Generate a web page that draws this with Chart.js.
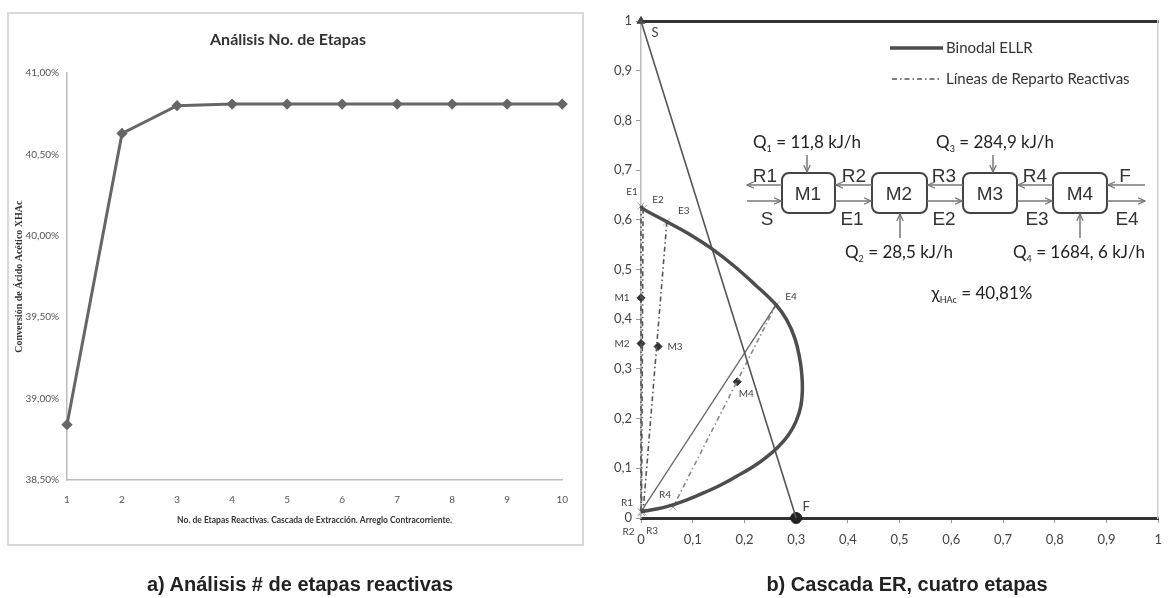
<!DOCTYPE html>
<html>
<head>
<meta charset="utf-8">
<script src="https://cdn.jsdelivr.net/npm/chart.js@4.4.1/dist/chart.umd.min.js"></script>
<style>
  body { margin: 0; background: #fff; width: 1171px; height: 598px; overflow: hidden; position: relative; }
  #boxA { position: absolute; left: 7px; top: 12px; width: 577px; height: 534px; border: 2px solid #d9d9d9; box-sizing: border-box; }
  #chartA { position: absolute; left: 9px; top: 14px; }
  #chartB { position: absolute; left: 596px; top: 0; }
  #over { position: absolute; left: 0; top: 0; pointer-events: none; }
</style>
</head>
<body>
<div id="boxA"></div>
<canvas id="chartA" width="573" height="530"></canvas>
<canvas id="chartB" width="575" height="560"></canvas>

<svg id="over" width="1171" height="598" font-family="Liberation Sans, Arial, sans-serif">
  <defs>
    <marker id="ah" markerWidth="8" markerHeight="8" refX="7" refY="4" orient="auto" markerUnits="userSpaceOnUse">
      <path d="M0,0.8 L7,4 L0,7.2" fill="none" stroke="#777" stroke-width="1.3"/>
    </marker>
  </defs>
  <!-- legend -->
  <line x1="890" y1="48" x2="943" y2="48" stroke="#4d4d4d" stroke-width="3.5"/>
  <text x="946" y="53" font-family="Lato" font-size="15" fill="#333">Binodal ELLR</text>
  <line x1="892" y1="79" x2="940" y2="79" stroke="#555" stroke-width="1.6" stroke-dasharray="5,3,1.5,3"/>
  <text x="946" y="84" font-family="Lato" font-size="15" fill="#333">Líneas de Reparto Reactivas</text>

  <!-- process diagram -->
  <g fill="#fff" stroke="#444" stroke-width="2">
    <rect x="782" y="173" width="53" height="40" rx="7"/>
    <rect x="872" y="173" width="55" height="40" rx="7"/>
    <rect x="963" y="173" width="54" height="40" rx="7"/>
    <rect x="1053" y="173" width="54" height="40" rx="7"/>
  </g>
  <g stroke="#777" stroke-width="1.5" marker-end="url(#ah)">
    <line x1="782" y1="185" x2="747" y2="185"/>
    <line x1="872" y1="185" x2="836" y2="185"/>
    <line x1="963" y1="185" x2="928" y2="185"/>
    <line x1="1053" y1="185" x2="1018" y2="185"/>
    <line x1="1145" y1="185" x2="1108" y2="185"/>
    <line x1="747" y1="201" x2="781" y2="201"/>
    <line x1="835" y1="201" x2="871" y2="201"/>
    <line x1="927" y1="201" x2="962" y2="201"/>
    <line x1="1017" y1="201" x2="1052" y2="201"/>
    <line x1="1107" y1="201" x2="1145" y2="201"/>
    <line x1="807" y1="155" x2="807" y2="172"/>
    <line x1="993" y1="155" x2="993" y2="172"/>
    <line x1="900" y1="238" x2="900" y2="214"/>
    <line x1="1080" y1="238" x2="1080" y2="214"/>
  </g>
  <g font-size="19" fill="#333" text-anchor="middle">
    <text x="808" y="200">M1</text>
    <text x="899" y="200">M2</text>
    <text x="990" y="200">M3</text>
    <text x="1080" y="200">M4</text>
    <text x="765" y="182">R1</text>
    <text x="854" y="182">R2</text>
    <text x="944" y="182">R3</text>
    <text x="1035" y="182">R4</text>
    <text x="1125" y="182">F</text>
    <text x="767" y="225">S</text>
    <text x="852" y="225">E1</text>
    <text x="944" y="225">E2</text>
    <text x="1037" y="225">E3</text>
    <text x="1127" y="225">E4</text>
  </g>
  <g font-family="Lato" font-size="17" fill="#222" text-anchor="middle">
    <text x="807" y="148">Q<tspan font-size="9" dy="4">1</tspan><tspan dy="-4"> = 11,8 kJ/h</tspan></text>
    <text x="995" y="148">Q<tspan font-size="9" dy="4">3</tspan><tspan dy="-4"> = 284,9 kJ/h</tspan></text>
    <text x="899" y="258">Q<tspan font-size="9" dy="4">2</tspan><tspan dy="-4"> = 28,5 kJ/h</tspan></text>
    <text x="1079" y="258">Q<tspan font-size="9" dy="4">4</tspan><tspan dy="-4"> = 1684, 6 kJ/h</tspan></text>
    <text x="982" y="299">χ<tspan font-size="9" dy="4">HAc</tspan><tspan dy="-4"> = 40,81%</tspan></text>
  </g>

  <!-- captions -->
  <g font-size="20" font-weight="bold" fill="#222" text-anchor="middle">
    <text x="300" y="591">a) Análisis # de etapas reactivas</text>
    <text x="907" y="591">b) Cascada ER, cuatro etapas</text>
  </g>
</svg>

<script>
// ---- a) conversion vs number of stages ----
const etapas = ['1', '2', '3', '4', '5', '6', '7', '8', '9', '10'];
const conversion = [38.84, 40.63, 40.80, 40.81, 40.81, 40.81, 40.81, 40.81, 40.81, 40.81];

// ---- b) ternary diagram, four-stage cascade ----
const binX = [0, 0.004, 0.05, 0.10, 0.138, 0.18, 0.22, 0.261, 0.282, 0.298, 0.307, 0.311, 0.312,
              0.309, 0.300, 0.285, 0.265, 0.242, 0.215, 0.185, 0.155, 0.122, 0.090, 0.060, 0.030, 0];
const binY = [0.628, 0.622, 0.596, 0.567, 0.541, 0.507, 0.470, 0.429, 0.398, 0.360, 0.320, 0.288, 0.257,
              0.225, 0.195, 0.167, 0.143, 0.122, 0.102, 0.084, 0.067, 0.051, 0.037, 0.026, 0.018, 0.013];

const ptNames = ['S', 'F', 'E1', 'E2', 'E3', 'E4', 'M1', 'M2', 'M3', 'M4', 'R1', 'R2', 'R3', 'R4'];
const ptX = [0, 0.30, 0, 0.004, 0.05, 0.261, 0, 0, 0.033, 0.186, 0, 0.001, 0.004, 0.062];
const ptY = [1, 0, 0.628, 0.622, 0.596, 0.429, 0.443, 0.351, 0.345, 0.274, 0.013, 0.011, 0.012, 0.022];

const tieLines = [['E1', 'R1'], ['E2', 'R2'], ['E3', 'R3'], ['E4', 'R4']];
const axisTicks = [0, 0.1, 0.2, 0.3, 0.4, 0.5, 0.6, 0.7, 0.8, 0.9, 1];

// label offsets in pixels, relative to each point
const labelOffset = {
  S: [14, 12], F: [10, -11], E1: [-9, -14], E2: [15, -9], E3: [17, -11], E4: [15, -8],
  M1: [-19, 0], M2: [-19, 0], M3: [17, 0], M4: [9, 12],
  R1: [-14, -9], R2: [-13, 19], R3: [9, 19], R4: [-8, -12]
};

function pt(name) {
  const i = ptNames.indexOf(name);
  return { x: ptX[i], y: ptY[i] };
}
const comma = v => String(Math.round(v * 10) / 10).replace('.', ',');

// chart a
new Chart(document.getElementById('chartA'), {
  type: 'line',
  data: {
    labels: etapas,
    datasets: [{
      data: conversion,
      borderColor: '#666',
      backgroundColor: '#666',
      borderWidth: 3,
      pointStyle: 'rectRot',
      pointRadius: 3.5,
      tension: 0
    }]
  },
  options: {
    responsive: false,
    animation: false,
    layout: { padding: { top: 0, right: 15, bottom: 0, left: 0 } },
    plugins: {
      legend: { display: false },
      tooltip: { enabled: false },
      title: {
        display: true,
        text: 'Análisis No. de Etapas',
        color: '#333',
        font: { family: 'Lato', size: 16, weight: 'bold' },
        padding: { top: 16, bottom: 24 }
      }
    },
    scales: {
      x: {
        offset: false,
        grid: { display: false, drawTicks: false },
        border: { display: true, color: '#bdbdbd', width: 1.5 },
        ticks: { color: '#555', padding: 14, font: { family: 'Lato', size: 10 } },
        title: {
          display: true,
          text: 'No. de Etapas Reactivas. Cascada de Extracción. Arreglo Contracorriente.',
          color: '#333',
          font: { family: 'Lato', size: 8.5, weight: 'bold' },
          padding: { top: 0, bottom: 19 }
        },
        afterFit: s => { s.height = 64; }
      },
      y: {
        min: 38.5,
        max: 41,
        grid: { display: false, drawTicks: false },
        border: { display: true, color: '#bdbdbd', width: 1.5 },
        ticks: {
          stepSize: 0.5,
          padding: 8,
          color: '#555',
          font: { family: 'Lato', size: 10 },
          callback: v => v.toFixed(2).replace('.', ',') + '%'
        },
        title: {
          display: true,
          text: 'Conversión de Ácido Acético XHAc',
          color: '#333',
          font: { family: 'Liberation Serif', size: 10, weight: 'bold' },
          padding: { top: 4, bottom: 0 }
        },
        afterFit: s => { s.width = 58; }
      }
    }
  }
});

// point labels drawn next to the markers of chart b
const labelPlugin = {
  id: 'ptLabels',
  afterDatasetsDraw(chart) {
    const { ctx, scales: { x, y } } = chart;
    ctx.save();
    ctx.fillStyle = '#444';
    ctx.textAlign = 'center';
    ctx.textBaseline = 'middle';
    ptNames.forEach((n, i) => {
      const off = labelOffset[n];
      ctx.font = (n === 'S' || n === 'F') ? '13px Lato' : '10px Lato';
      ctx.fillText(n, x.getPixelForValue(ptX[i]) + off[0], y.getPixelForValue(ptY[i]) + off[1]);
    });
    ctx.restore();
  }
};

const lineSet = (names, color, width, dash) => ({
  data: names.map(pt),
  showLine: true,
  borderColor: color,
  borderWidth: width,
  borderDash: dash || [],
  pointRadius: 0,
  clip: false
});

const markerSet = (names, style, radius, color, fill, width) => ({
  data: names.map(pt),
  showLine: false,
  pointStyle: style,
  pointRadius: radius,
  borderColor: color,
  backgroundColor: fill,
  borderWidth: width,
  clip: false
});

new Chart(document.getElementById('chartB'), {
  type: 'scatter',
  data: {
    datasets: [
      {
        data: binX.map((v, i) => ({ x: v, y: binY[i] })),
        showLine: true,
        borderColor: '#4d4d4d',
        borderWidth: 3.5,
        tension: 0.4,
        pointRadius: 0,
        clip: false
      },
      lineSet(['S', 'F'], '#555', 1.6),
      lineSet(['R1', 'E4'], '#666', 1.3),
      ...tieLines.map((t, i) => lineSet(t, i < 3 ? '#555' : '#8a8a8a', 1.6, [5, 3, 1.5, 3])),
      markerSet(['E1', 'E2', 'E3', 'E4', 'R1', 'R2', 'R3', 'R4'], 'crossRot', 5, '#aaa', '#aaa', 1),
      markerSet(['M1', 'M2', 'M3', 'M4'], 'rectRot', 4, '#333', '#333', 1),
      markerSet(['F'], 'circle', 5.5, '#222', '#222', 1),
      markerSet(['S'], 'triangle', 4.5, '#444', '#444', 1)
    ]
  },
  options: {
    responsive: false,
    animation: false,
    layout: { padding: { top: 21, right: 3, bottom: 0, left: 0 } },
    plugins: { legend: { display: false }, tooltip: { enabled: false } },
    scales: {
      x: {
        type: 'linear',
        min: 0,
        max: 1,
        afterBuildTicks: s => { s.ticks = axisTicks.map(v => ({ value: v })); },
        grid: { drawOnChartArea: false, drawTicks: true, tickLength: 5, color: '#999' },
        border: { display: true, color: '#333', width: 3 },
        ticks: { color: '#444', padding: 9, maxRotation: 0, font: { family: 'Lato', size: 13 }, callback: comma },
        afterFit: s => { s.height = 42; }
      },
      xTop: {
        type: 'linear',
        position: 'top',
        min: 0,
        max: 1,
        grid: { display: false, drawTicks: false },
        border: { display: true, color: '#333', width: 3 },
        ticks: { display: false },
        afterFit: s => { s.height = 0; }
      },
      y: {
        type: 'linear',
        min: 0,
        max: 1,
        afterBuildTicks: s => { s.ticks = axisTicks.map(v => ({ value: v })); },
        grid: { drawOnChartArea: false, drawTicks: true, tickLength: 5, color: '#999' },
        border: { display: true, color: '#bbb', width: 1.5 },
        ticks: { color: '#444', padding: 4, font: { family: 'Lato', size: 13 }, callback: comma },
        afterFit: s => { s.width = 45; }
      },
      yRight: {
        type: 'linear',
        position: 'right',
        min: 0,
        max: 1,
        grid: { display: false, drawTicks: false },
        border: { display: true, color: '#ccc', width: 1.5 },
        ticks: { display: false },
        afterFit: s => { s.width = 0; }
      }
    }
  },
  plugins: [labelPlugin]
});
</script>
</body>
</html>
